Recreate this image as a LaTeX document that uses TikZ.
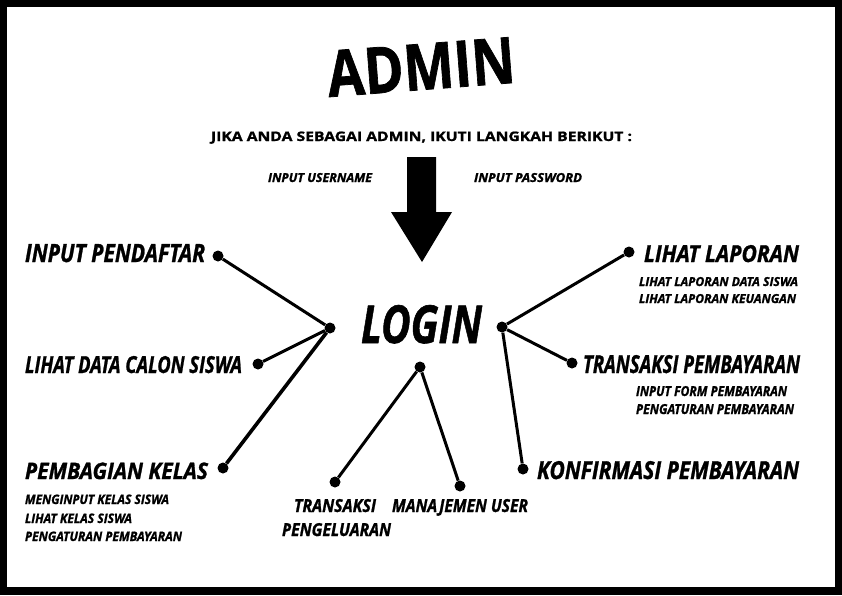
\documentclass[tikz,border=0pt]{standalone}
\usepackage{fontspec}
\usepackage{graphicx}
\setmainfont{Open Sans}[BoldFeatures={FakeBold=1.2},BoldItalicFeatures={FakeBold=1.2}]
\newcommand{\fitt}[3]{\resizebox{#1pt}{#2pt}{#3}}
\begin{document}
\begin{tikzpicture}[x=1pt,y=-1pt,
  lbl/.style={inner sep=0pt,outer sep=0pt,anchor=base west,font=\bfseries\itshape},
  upl/.style={inner sep=0pt,outer sep=0pt,anchor=base west,font=\bfseries},
  dot/.style={circle,fill=black,inner sep=0pt,minimum size=11pt},
  link/.style={line width=3pt}]
\useasboundingbox (0,0) rectangle (842,595);
\fill[black] (0,0) rectangle (842,595);
\fill[white] (7,7) rectangle (835,587);
% title
\node[upl,rotate=4.4] (admin) at (329,97) {\fitt{188}{46}{ADMIN}};
\node[upl] (sub) at (211,141) {\fitt{421}{9.5}{JIKA ANDA SEBAGAI ADMIN, IKUTI LANGKAH BERIKUT :}};
\node[lbl] (user) at (268,182) {\fitt{104}{9}{INPUT USERNAME}};
\node[lbl] (pass) at (474,182) {\fitt{108}{9}{INPUT PASSWORD}};
% arrow
\fill[black] (407,157) -- (436,157) -- (436,212) -- (452,212) -- (422,262) -- (391,212) -- (407,212) -- cycle;
% login
\node[lbl] (login) at (361,343) {\fitt{121}{38}{LOGIN}};
% labels left
\node[lbl] (tip) at (25,262) {\fitt{180}{18}{INPUT PENDAFTAR}};
\node[lbl] (tld) at (25,373) {\fitt{217}{17}{LIHAT DATA CALON SISWA}};
\node[lbl] (tpk) at (25,479) {\fitt{183}{16.5}{PEMBAGIAN KELAS}};
\node[lbl] (s1) at (25,504) {\fitt{144}{9.5}{MENGINPUT KELAS SISWA}};
\node[lbl] (s2) at (25,523) {\fitt{107}{9.5}{LIHAT KELAS SISWA}};
\node[lbl] (s3) at (25,541) {\fitt{157}{9.5}{PENGATURAN PEMBAYARAN}};
% labels right
\node[lbl] (tlr) at (644,262) {\fitt{155}{17}{LIHAT LAPORAN}};
\node[lbl] (s4) at (639,286) {\fitt{159}{9}{LIHAT LAPORAN DATA SISWA}};
\node[lbl] (s5) at (639,303) {\fitt{157}{9}{LIHAT LAPORAN KEUANGAN}};
\node[lbl] (ttp) at (583,373) {\fitt{217}{18}{TRANSAKSI PEMBAYARAN}};
\node[lbl] (s6) at (636,396) {\fitt{151}{10}{INPUT FORM PEMBAYARAN}};
\node[lbl] (s7) at (636,414) {\fitt{158}{10}{PENGATURAN PEMBAYARAN}};
\node[lbl] (tkp) at (537,479) {\fitt{262}{18}{KONFIRMASI PEMBAYARAN}};
% labels bottom
\node[lbl] (ttr1) at (294,512) {\fitt{82}{13}{TRANSAKSI}};
\node[lbl] (ttr2) at (282,536) {\fitt{109}{13}{PENGELUARAN}};
\node[lbl] (tmu) at (392,512) {\fitt{136}{13}{MANAJEMEN USER}};
% hubs and dots
\node[dot] (hl) at (330,328) {};
\node[dot] (hr) at (502,327) {};
\node[dot] (hb) at (420,367) {};
\node[dot] (dip) at (218,256) {};
\node[dot] (dld) at (258,364) {};
\node[dot] (dpk) at (223,468) {};
\node[dot] (dlr) at (629,252) {};
\node[dot] (dtp) at (572,363) {};
\node[dot] (dkp) at (523,469) {};
\node[dot] (dtr) at (335,482) {};
\node[dot] (dmu) at (460,486) {};
% connectors
\draw[link] (hl) -- (dip);
\draw[link] (hl) -- (dld);
\draw[link,line width=3.6pt] (hl) -- (dpk);
\draw[link] (hr) -- (dlr);
\draw[link] (hr) -- (dtp);
\draw[link] (hr) -- (dkp);
\draw[link] (hb) -- (dtr);
\draw[link] (hb) -- (dmu);
\end{tikzpicture}
\end{document}
